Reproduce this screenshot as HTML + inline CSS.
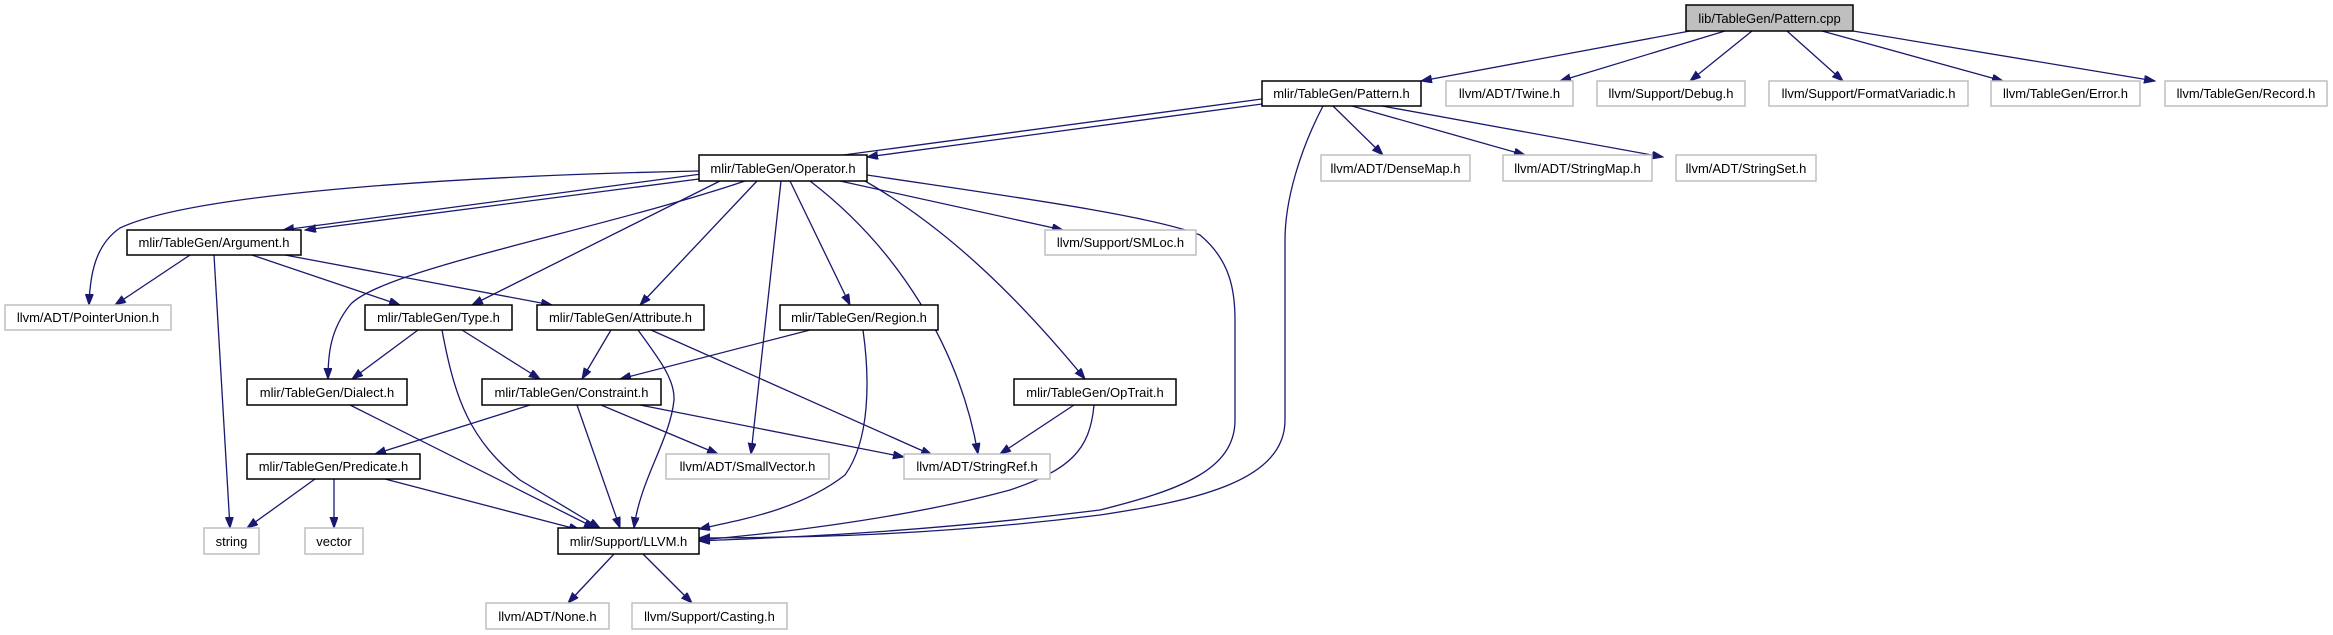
<!DOCTYPE html>
<html><head><meta charset="utf-8"><style>
html,body{margin:0;padding:0;background:#fff;}
svg{display:block;}
text{font-family:"Liberation Sans",Arial,sans-serif;font-size:13px;fill:#000;}
.m{fill:#fff;stroke:#000;stroke-width:1.5;}
.g{fill:#fff;stroke:#bfbfbf;stroke-width:1.5;}
.e{fill:none;stroke:#191970;stroke-width:1.3;marker-end:url(#a);}
</style></head><body>
<svg width="2333" height="635" viewBox="0 0 2333 635" xmlns="http://www.w3.org/2000/svg">
<defs><marker id="a" markerUnits="userSpaceOnUse" markerWidth="12" markerHeight="9" refX="11" refY="4" orient="auto"><path d="M0,0 L11,4 L0,8 z" fill="#191970" stroke="#191970"/></marker></defs>
<g>
<path class="e" d="M1690,31 L1421,81"/>
<path class="e" d="M1725,31 L1560,81"/>
<path class="e" d="M1752,31 L1690,81"/>
<path class="e" d="M1787,31 L1843,81"/>
<path class="e" d="M1822,31 L2003,81"/>
<path class="e" d="M1853,31 L2155,81"/>
<path class="e" d="M1262,99 L283,230"/>
<path class="e" d="M1262,104 L867,157"/>
<path class="e" d="M1333,106 L1383,155"/>
<path class="e" d="M1352,106 L1525,155"/>
<path class="e" d="M1382,106 L1663,157"/>
<path class="e" d="M1323,106 C1300,150 1285,200 1285,240 L1285,420 C1285,480 1200,500 1100,515 C900,540 750,537 699,538"/>
<path class="e" d="M699,171 C500,175 200,190 120,228 C95,245 90,275 89,305"/>
<path class="e" d="M699,179 L305,230"/>
<path class="e" d="M720,181 L472,305"/>
<path class="e" d="M757,181 L640,305"/>
<path class="e" d="M745,181 C600,230 380,270 350,305 C330,330 328,355 328,379"/>
<path class="e" d="M781,181 L751,454"/>
<path class="e" d="M790,181 L850,305"/>
<path class="e" d="M810,181 C900,250 960,350 978,454"/>
<path class="e" d="M865,181 C950,230 1020,300 1085,379"/>
<path class="e" d="M840,181 L1063,230"/>
<path class="e" d="M867,175 C1000,195 1150,215 1200,235 C1230,260 1235,290 1235,320 L1235,420 C1235,470 1180,490 1100,510 C900,535 760,538 699,541"/>
<path class="e" d="M190,255 L115,305"/>
<path class="e" d="M214,255 L230,528"/>
<path class="e" d="M252,255 L400,305"/>
<path class="e" d="M285,255 L552,305"/>
<path class="e" d="M418,330 L352,379"/>
<path class="e" d="M462,330 L540,379"/>
<path class="e" d="M442,330 C455,400 470,440 520,480 L600,528"/>
<path class="e" d="M611,330 L582,379"/>
<path class="e" d="M638,330 C660,360 675,380 674,400 C670,440 640,480 634,528"/>
<path class="e" d="M651,330 L932,455"/>
<path class="e" d="M810,330 L620,379"/>
<path class="e" d="M863,330 C870,380 870,440 845,475 C800,510 740,520 699,529"/>
<path class="e" d="M350,405 L595,528"/>
<path class="e" d="M530,405 L375,454"/>
<path class="e" d="M577,405 L620,528"/>
<path class="e" d="M601,405 L718,454"/>
<path class="e" d="M640,405 L904,457"/>
<path class="e" d="M1074,405 L1000,454"/>
<path class="e" d="M1094,405 C1090,450 1070,470 1010,490 C900,520 760,535 699,540"/>
<path class="e" d="M315,479 L247,528"/>
<path class="e" d="M334,479 L334,528"/>
<path class="e" d="M385,479 L580,530"/>
<path class="e" d="M614,554 L568,603"/>
<path class="e" d="M643,554 L692,603"/>
</g>
<g>
<rect x="1686" y="5" width="167" height="26" fill="#bfbfbf" stroke="#000" stroke-width="1.5"/><text x="1769.5" y="23" text-anchor="middle">lib/TableGen/Pattern.cpp</text>
<rect class="m" x="1262" y="81" width="159" height="25"/><text x="1341.5" y="98" text-anchor="middle">mlir/TableGen/Pattern.h</text>
<rect class="g" x="1446" y="81" width="127" height="25"/><text x="1509.5" y="98" text-anchor="middle">llvm/ADT/Twine.h</text>
<rect class="g" x="1597" y="81" width="148" height="25"/><text x="1671" y="98" text-anchor="middle">llvm/Support/Debug.h</text>
<rect class="g" x="1769" y="81" width="199" height="25"/><text x="1868.5" y="98" text-anchor="middle">llvm/Support/FormatVariadic.h</text>
<rect class="g" x="1991" y="81" width="149" height="25"/><text x="2065.5" y="98" text-anchor="middle">llvm/TableGen/Error.h</text>
<rect class="g" x="2165" y="81" width="162" height="25"/><text x="2246" y="98" text-anchor="middle">llvm/TableGen/Record.h</text>
<rect class="m" x="699" y="155" width="168" height="26"/><text x="783" y="173" text-anchor="middle">mlir/TableGen/Operator.h</text>
<rect class="g" x="1321" y="155" width="149" height="26"/><text x="1395.5" y="173" text-anchor="middle">llvm/ADT/DenseMap.h</text>
<rect class="g" x="1503" y="155" width="149" height="26"/><text x="1577.5" y="173" text-anchor="middle">llvm/ADT/StringMap.h</text>
<rect class="g" x="1676" y="155" width="140" height="26"/><text x="1746" y="173" text-anchor="middle">llvm/ADT/StringSet.h</text>
<rect class="m" x="127" y="230" width="174" height="25"/><text x="214" y="247" text-anchor="middle">mlir/TableGen/Argument.h</text>
<rect class="g" x="1045" y="230" width="151" height="25"/><text x="1120.5" y="247" text-anchor="middle">llvm/Support/SMLoc.h</text>
<rect class="g" x="5" y="305" width="166" height="25"/><text x="88" y="322" text-anchor="middle">llvm/ADT/PointerUnion.h</text>
<rect class="m" x="365" y="305" width="147" height="25"/><text x="438.5" y="322" text-anchor="middle">mlir/TableGen/Type.h</text>
<rect class="m" x="537" y="305" width="167" height="25"/><text x="620.5" y="322" text-anchor="middle">mlir/TableGen/Attribute.h</text>
<rect class="m" x="780" y="305" width="158" height="25"/><text x="859" y="322" text-anchor="middle">mlir/TableGen/Region.h</text>
<rect class="m" x="247" y="379" width="160" height="26"/><text x="327" y="397" text-anchor="middle">mlir/TableGen/Dialect.h</text>
<rect class="m" x="482" y="379" width="179" height="26"/><text x="571.5" y="397" text-anchor="middle">mlir/TableGen/Constraint.h</text>
<rect class="m" x="1014" y="379" width="162" height="26"/><text x="1095" y="397" text-anchor="middle">mlir/TableGen/OpTrait.h</text>
<rect class="m" x="247" y="454" width="173" height="25"/><text x="333.5" y="471" text-anchor="middle">mlir/TableGen/Predicate.h</text>
<rect class="g" x="666" y="454" width="163" height="25"/><text x="747.5" y="471" text-anchor="middle">llvm/ADT/SmallVector.h</text>
<rect class="g" x="904" y="454" width="146" height="25"/><text x="977" y="471" text-anchor="middle">llvm/ADT/StringRef.h</text>
<rect class="g" x="204" y="528" width="55" height="26"/><text x="231.5" y="546" text-anchor="middle">string</text>
<rect class="g" x="305" y="528" width="58" height="26"/><text x="334" y="546" text-anchor="middle">vector</text>
<rect class="m" x="558" y="528" width="141" height="26"/><text x="628.5" y="546" text-anchor="middle">mlir/Support/LLVM.h</text>
<rect class="g" x="486" y="603" width="123" height="26"/><text x="547.5" y="621" text-anchor="middle">llvm/ADT/None.h</text>
<rect class="g" x="632" y="603" width="155" height="26"/><text x="709.5" y="621" text-anchor="middle">llvm/Support/Casting.h</text>
</g>
</svg>
</body></html>
